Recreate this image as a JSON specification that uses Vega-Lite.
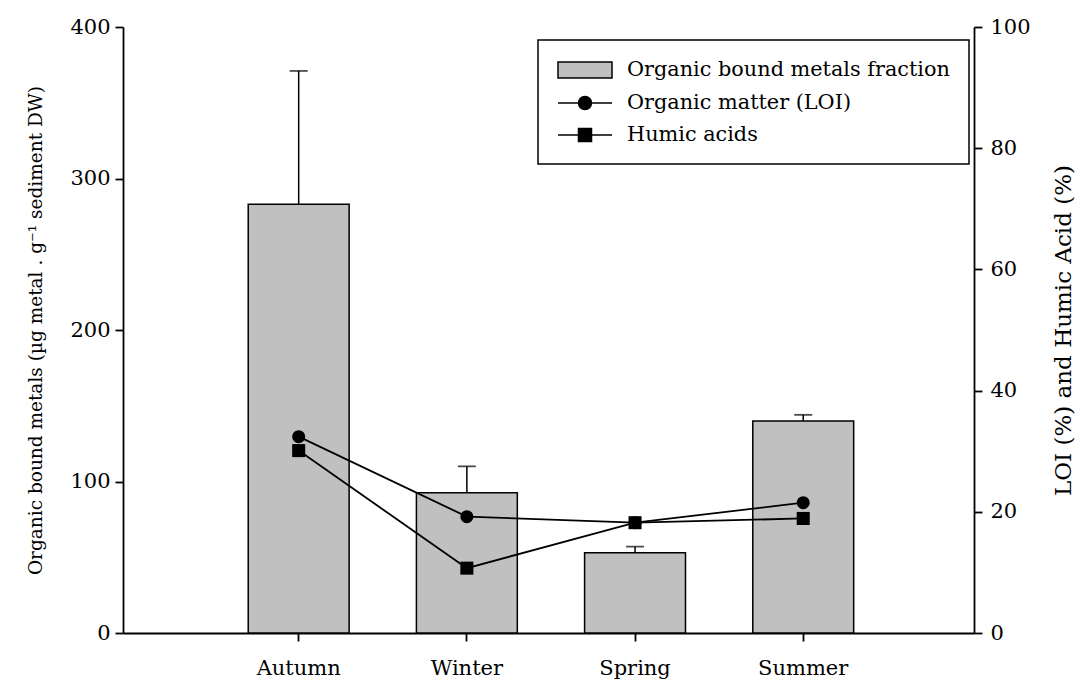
{
  "$schema": "https://vega.github.io/schema/vega-lite/v6.json",
  "width": 851,
  "height": 606,
  "autosize": "none",
  "padding": {"left": 123, "top": 27, "right": 106, "bottom": 51},
  "background": "white",
  "config": {
    "view": {"stroke": null},
    "font": "DejaVu Serif",
    "axis": {
      "domainColor": "black",
      "domainWidth": 1.8,
      "tickColor": "black",
      "tickWidth": 1.8,
      "tickSize": 8,
      "labelFont": "DejaVu Serif",
      "labelFontSize": 21,
      "labelColor": "black",
      "titleFont": "DejaVu Serif",
      "titleFontSize": 20,
      "titleFontWeight": "normal",
      "titleColor": "black",
      "grid": false
    },
    "legend": {
      "labelFont": "DejaVu Serif",
      "labelLimit": 500
    }
  },
  "datasets": {
    "metals": [
      {"season": "Autumn", "metals": 283, "upper": 371},
      {"season": "Winter", "metals": 92.5, "upper": 110},
      {"season": "Spring", "metals": 53, "upper": 57},
      {"season": "Summer", "metals": 140, "upper": 144}
    ],
    "organic": [
      {"season": "Autumn", "series": "Organic matter (LOI)", "pct": 32.4},
      {"season": "Winter", "series": "Organic matter (LOI)", "pct": 19.2},
      {"season": "Spring", "series": "Organic matter (LOI)", "pct": 18.2},
      {"season": "Summer", "series": "Organic matter (LOI)", "pct": 21.5},
      {"season": "Autumn", "series": "Humic acids", "pct": 30.1},
      {"season": "Winter", "series": "Humic acids", "pct": 10.7},
      {"season": "Spring", "series": "Humic acids", "pct": 18.2},
      {"season": "Summer", "series": "Humic acids", "pct": 18.9}
    ],
    "legend": [
      {"item": "Organic bound metals fraction"},
      {"item": "Organic matter (LOI)"},
      {"item": "Humic acids"}
    ]
  },
  "layer": [
    {
      "data": {"name": "metals"},
      "encoding": {
        "x": {
          "field": "season",
          "type": "nominal",
          "sort": ["Autumn", "Winter", "Spring", "Summer"],
          "scale": {"type": "band", "paddingInner": 0.4, "paddingOuter": 0.73, "align": 0.51},
          "axis": {"title": null, "labelAngle": 0, "labelPadding": 16}
        },
        "y": {
          "field": "metals",
          "type": "quantitative",
          "scale": {"domain": [0, 400], "nice": false},
          "axis": {
            "orient": "left",
            "values": [0, 100, 200, 300, 400],
            "title": "Organic bound metals (µg metal . g⁻¹ sediment DW)",
            "titleFontSize": 18.5,
            "labelPadding": 5,
            "titlePadding": 24
          }
        }
      },
      "layer": [
        {"mark": {"type": "bar", "fill": "#c0c0c0", "stroke": "black", "strokeWidth": 1.5}},
        {
          "mark": {"type": "rule", "color": "black", "strokeWidth": 1.5},
          "encoding": {"y2": {"field": "upper"}}
        },
        {
          "mark": {"type": "tick", "color": "black", "size": 18, "thickness": 1.8},
          "encoding": {"y": {"field": "upper", "type": "quantitative"}}
        }
      ]
    },
    {
      "data": {"name": "organic"},
      "encoding": {
        "x": {
          "field": "season",
          "type": "nominal",
          "sort": ["Autumn", "Winter", "Spring", "Summer"]
        },
        "y": {
          "field": "pct",
          "type": "quantitative",
          "scale": {"domain": [0, 100], "nice": false},
          "axis": {
            "orient": "right",
            "values": [0, 20, 40, 60, 80, 100],
            "title": "LOI (%) and Humic Acid (%)",
            "titleFontSize": 23,
            "titleAngle": 270,
            "labelPadding": 8,
            "titlePadding": 45
          }
        }
      },
      "layer": [
        {
          "mark": {"type": "line", "color": "black", "strokeWidth": 1.8},
          "encoding": {"detail": {"field": "series"}}
        },
        {
          "transform": [{"filter": "datum.series === 'Organic matter (LOI)'"}],
          "mark": {"type": "point", "shape": "circle", "filled": true, "color": "black", "size": 170, "opacity": 1}
        },
        {
          "transform": [{"filter": "datum.series === 'Humic acids'"}],
          "mark": {"type": "point", "shape": "square", "filled": true, "color": "black", "size": 170, "opacity": 1}
        }
      ]
    },
    {
      "data": {"name": "legend"},
      "mark": {"type": "point", "filled": true, "opacity": 0},
      "encoding": {
        "shape": {
          "field": "item",
          "type": "nominal",
          "scale": {
            "domain": ["Organic bound metals fraction", "Organic matter (LOI)", "Humic acids"],
            "range": [
              "M-1,-0.8H4.4V0.8H-1Z",
              "M-1,0H4.4M2.35,0A0.65,0.65,0,1,1,1.05,0A0.65,0.65,0,1,1,2.35,0Z",
              "M-1,0H4.4M1.05,-0.65H2.35V0.65H1.05Z"
            ]
          },
          "legend": {
            "title": null,
            "orient": "none",
            "legendX": 415,
            "legendY": 13,
            "padding": 19,
            "strokeColor": "black",
            "fillColor": "white",
            "labelFontSize": 20.8,
            "labelColor": "black",
            "labelLimit": 500,
            "symbolSize": 400,
            "labelOffset": 48,
            "rowPadding": 11,
            "symbolStrokeWidth": 1.5,
            "symbolStrokeColor": "black",
            "encode": {
              "legend": {"update": {"strokeWidth": {"value": 1.5}}},
              "symbols": {"update": {"opacity": {"value": 1}, "stroke": {"value": "black"}, "strokeWidth": {"value": 1.5}}}
            }
          }
        },
        "fill": {
          "field": "item",
          "type": "nominal",
          "scale": {
            "domain": ["Organic bound metals fraction", "Organic matter (LOI)", "Humic acids"],
            "range": ["#c0c0c0", "black", "black"]
          },
          "legend": {
            "title": null,
            "orient": "none",
            "legendX": 415,
            "legendY": 13,
            "padding": 19,
            "strokeColor": "black",
            "fillColor": "white",
            "labelFontSize": 20.8,
            "labelColor": "black",
            "labelLimit": 500,
            "symbolSize": 400,
            "labelOffset": 48,
            "rowPadding": 11,
            "symbolStrokeWidth": 1.5,
            "symbolStrokeColor": "black",
            "encode": {
              "legend": {"update": {"strokeWidth": {"value": 1.5}}},
              "symbols": {"update": {"opacity": {"value": 1}, "stroke": {"value": "black"}, "strokeWidth": {"value": 1.5}}}
            }
          }
        }
      }
    }
  ],
  "resolve": {"scale": {"y": "independent"}}
}
